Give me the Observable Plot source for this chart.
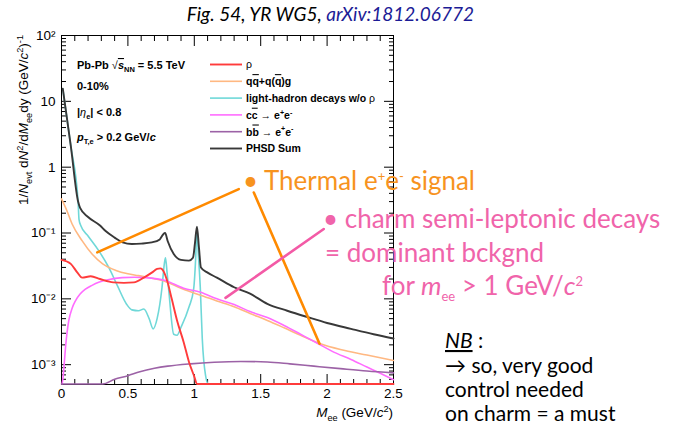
<!DOCTYPE html>
<html>
<head>
<meta charset="utf-8">
<script src="https://cdn.jsdelivr.net/npm/d3@7"></script>
<script src="https://cdn.jsdelivr.net/npm/@observablehq/plot@0.6"></script>
<style>
  body { margin: 0; background: #fff; }
  svg { display: block; }
</style>
</head>
<body>
<div id="chart"></div>
<script>
// Dielectron invariant-mass spectrum, Pb-Pb 5.5 TeV, 0-10% (PHSD). Points are [M_ee in GeV/c², yield].
// Components that fall off the bottom of the plot are kept at the floor (5.1e-4) so they run along the axis.
const rho = [
  [0.0, 0.039], [0.07, 0.034], [0.12, 0.025], [0.155, 0.021], [0.22, 0.022], [0.29, 0.020],
  [0.39, 0.0178], [0.47, 0.0175], [0.545, 0.0178], [0.62, 0.021], [0.68, 0.025], [0.72, 0.0285],
  [0.745, 0.029], [0.765, 0.027], [0.795, 0.019], [0.83, 0.010], [0.87, 0.0047], [0.92, 0.0022],
  [0.96, 0.0011], [1.0, 0.00066], [1.02, 0.00051], [1.06, 0.00051], [2.5, 0.00051]
];
const qqbar = [
  [0.0, 0.33], [0.04, 0.22], [0.08, 0.137], [0.156, 0.076], [0.23, 0.048], [0.31, 0.034],
  [0.41, 0.027], [0.5, 0.024], [0.58, 0.0225], [0.68, 0.0205], [0.76, 0.019], [0.9, 0.0145],
  [1.047, 0.0113], [1.17, 0.0093], [1.3, 0.0076], [1.42, 0.006], [1.55, 0.0047], [1.68, 0.0036],
  [1.8, 0.0028], [1.95, 0.00208], [2.1, 0.0017], [2.3, 0.0014], [2.5, 0.00116]
];
const lightHadrons = [
  [0.01, 15.5], [0.07, 2.1], [0.125, 0.3], [0.132, 0.16], [0.145, 0.13], [0.2, 0.09], [0.28, 0.054],
  [0.356, 0.030], [0.42, 0.016], [0.49, 0.0083], [0.53, 0.0068], [0.58, 0.0066], [0.62, 0.007],
  [0.66, 0.005], [0.69, 0.0035], [0.72, 0.005], [0.757, 0.015], [0.775, 0.035], [0.783, 0.042],
  [0.795, 0.025], [0.81, 0.012], [0.845, 0.0029], [0.87, 0.0028], [0.9, 0.0037], [0.96, 0.0075],
  [0.995, 0.014], [1.01, 0.04], [1.02, 0.12], [1.03, 0.05], [1.045, 0.015], [1.06, 0.0025],
  [1.085, 0.00068], [1.105, 0.00051], [1.15, 0.00051]
];
const ccbar = [
  [0.004, 0.00051], [0.01, 0.0006], [0.02, 0.001], [0.03, 0.0018], [0.055, 0.0047], [0.08, 0.0072],
  [0.105, 0.0093], [0.14, 0.0118], [0.18, 0.014], [0.23, 0.016], [0.28, 0.0178], [0.35, 0.0195],
  [0.457, 0.021], [0.55, 0.0213], [0.63, 0.021], [0.78, 0.019], [0.92, 0.0145], [1.047, 0.0126],
  [1.17, 0.0100], [1.3, 0.0082], [1.42, 0.0064], [1.55, 0.0052], [1.68, 0.0039], [1.8, 0.0029],
  [1.93, 0.0021], [2.05, 0.00155], [2.18, 0.0012], [2.3, 0.00092], [2.4, 0.00074], [2.5, 0.00059]
];
const bbbar = [
  [0.0, 0.00051], [0.31, 0.00051], [0.4, 0.0006], [0.5, 0.00068], [0.59, 0.00078],
  [0.7, 0.00088], [0.8, 0.00095], [0.97, 0.00103], [1.15, 0.00109], [1.35, 0.00112], [1.55, 0.0011],
  [1.72, 0.00103], [1.9, 0.00095], [2.1, 0.00087], [2.3, 0.0008], [2.5, 0.00075]
];
const phsdSum = [
  [0.01, 15.5], [0.07, 2.1], [0.125, 0.3], [0.14, 0.24], [0.2, 0.175], [0.29, 0.13], [0.33, 0.108],
  [0.4, 0.085], [0.46, 0.072], [0.53, 0.068], [0.6, 0.069], [0.68, 0.072], [0.74, 0.08],
  [0.765, 0.095], [0.78, 0.1], [0.8, 0.075], [0.845, 0.048], [0.9, 0.039], [0.96, 0.038],
  [0.99, 0.042], [1.005, 0.07], [1.02, 0.125], [1.035, 0.06], [1.05, 0.03], [1.1, 0.025],
  [1.17, 0.021], [1.3, 0.015], [1.42, 0.012], [1.55, 0.0084], [1.7, 0.0066], [1.85, 0.0053],
  [2.0, 0.0043], [2.18, 0.0035], [2.35, 0.0029], [2.5, 0.0025]
];

// Pointer segments of the two annotations, in data units.
const thermalPointerA = [[0.269, 0.0508], [1.335, 0.464]];
const thermalPointerB = [[1.448, 0.412], [1.943, 0.00208]];
const charmPointer = [[1.235, 0.01035], [1.975, 0.115]];

// Axis ticks and their labels.
const xMajor = [0, 0.5, 1, 1.5, 2, 2.5];
const xTickLabels = ["0", "0.5", "1", "1.5", "2", "2.5"];
const yMajor = [1e-3, 1e-2, 1e-1, 1, 10, 100];
const yTickLabels = ["10⁻³", "10⁻²", "10⁻¹", "1", "10", "10²"];

const xMinor = d3.range(0, 26).map(i => i / 10).filter(v => Math.abs(v * 2 - Math.round(v * 2)) > 1e-9);
const yMinor = [];
for (let e = -4; e <= 1; e++) for (let k = 2; k <= 9; k++) {
  const v = k * Math.pow(10, e);
  if (v >= 5e-4 && v <= 100) yMinor.push(v);
}

const style = {
  rho:   {stroke: "#ff3b3b", width: 1.9},
  qq:    {stroke: "#ffb882", width: 1.6},
  light: {stroke: "#6fd8d8", width: 1.6},
  cc:    {stroke: "#ff6cff", width: 1.6},
  bb:    {stroke: "#9c62a6", width: 1.6},
  sum:   {stroke: "#383838", width: 1.9}
};
const drawOrder = [
  ["light", lightHadrons], ["qq", qqbar], ["cc", ccbar], ["bb", bbbar], ["rho", rho], ["sum", phsdSum]
];

const W = 674, H = 428;
const frame = {left: 61, right: 393, top: 35, bottom: 384};
const xLab = new Map(xMajor.map((v, i) => [v, xTickLabels[i]]));
const yLab = new Map(yMajor.map((v, i) => [v, yTickLabels[i]]));
const blank = () => "";
const axisFont = 13.5;

const chart = Plot.plot({
  width: W,
  height: H,
  marginLeft: frame.left,
  marginRight: W - frame.right,
  marginTop: frame.top,
  marginBottom: H - frame.bottom,
  style: {fontFamily: "'Liberation Sans', Arial, sans-serif", background: "white", overflow: "visible"},
  x: {domain: [0, 2.5]},
  y: {type: "log", domain: [5e-4, 100], clamp: true},
  marks: [
    Plot.frame({stroke: "black", strokeWidth: 1}),
    // ticks point inwards on all four sides
    Plot.axisX({anchor: "bottom", ticks: xMajor, tickSize: -10, tickPadding: 14, tickFormat: d => xLab.get(d), fontSize: axisFont, label: null, color: "black"}),
    Plot.axisX({anchor: "bottom", ticks: xMinor, tickSize: -5, tickFormat: blank, label: null}),
    Plot.axisX({anchor: "top", ticks: xMajor, tickSize: -10, tickFormat: blank, label: null}),
    Plot.axisX({anchor: "top", ticks: xMinor, tickSize: -5, tickFormat: blank, label: null}),
    Plot.axisY({anchor: "left", ticks: yMajor, tickSize: -10, tickPadding: 16, tickFormat: d => yLab.get(d), fontSize: axisFont, label: null, color: "black"}),
    Plot.axisY({anchor: "left", ticks: yMinor, tickSize: -5, tickFormat: blank, label: null}),
    Plot.axisY({anchor: "right", ticks: yMajor, tickSize: -10, tickFormat: blank, label: null}),
    Plot.axisY({anchor: "right", ticks: yMinor, tickSize: -5, tickFormat: blank, label: null}),
    // model components, drawn over the frame like the original ROOT canvas
    ...drawOrder.map(([k, data]) => Plot.line(data, {
      x: d => d[0], y: d => d[1],
      stroke: style[k].stroke, strokeWidth: style[k].width, curve: "monotone-x"
    })),
    // annotation pointers
    Plot.line(thermalPointerA, {x: d => d[0], y: d => d[1], stroke: "#ff8a00", strokeWidth: 2.6}),
    Plot.line(thermalPointerB, {x: d => d[0], y: d => d[1], stroke: "#ff8a00", strokeWidth: 2.6}),
    Plot.line(charmPointer, {x: d => d[0], y: d => d[1], stroke: "#f35aa6", strokeWidth: 2.6})
  ]
});
document.getElementById("chart").appendChild(chart);

// ---- rich text helpers (subscripts, superscripts, italics, overlines) ----
const svg = d3.select(chart);
const notes = svg.append("g");

function richText(parent, x, y, parts, o = {}) {
  const size = o.size || 12;
  const supShift = o.supShift ?? 0.4, subShift = o.subShift ?? 0.3, small = o.small ?? 0.68;
  const t = parent.append("text")
    .attr("x", x).attr("y", y)
    .attr("font-size", size)
    .attr("font-family", o.family || "'Liberation Sans', Arial, sans-serif")
    .attr("font-weight", o.weight || "normal")
    .attr("font-style", o.style || "normal")
    .attr("fill", o.fill || "black")
    .attr("text-anchor", o.anchor || "start");
  if (o.transform) t.attr("transform", o.transform);
  let shift = 0;
  for (const p of parts) {
    const s = typeof p === "string" ? {t: p} : p;
    const ts = t.append("tspan").text(s.t);
    const target = s.sub ? subShift * size : s.sup ? -supShift * size : 0;
    if (target !== shift) { ts.attr("dy", target - shift); shift = target; }
    if (s.sub || s.sup) ts.attr("font-size", size * small);
    if (s.it) ts.attr("font-style", "italic");
    if (s.w) ts.attr("font-weight", s.w);
    if (s.over) ts.style("text-decoration", "overline");
    if (s.under) ts.style("text-decoration", "underline");
    if (s.fill) ts.attr("fill", s.fill);
  }
  return t;
}

// axis titles
richText(notes, 0, 0, [
  "1/", {t: "N", it: true}, {t: "evt", sub: true}, " d", {t: "N", it: true}, {t: "2", sup: true},
  "/d", {t: "M", it: true}, {t: "ee", sub: true}, "dy (GeV/", {t: "c", it: true}, {t: "2", sup: true}, ")",
  {t: "-1", sup: true}
], {size: 13.5, anchor: "end", transform: "translate(28,35) rotate(-90)"});

richText(notes, frame.right, 417, [
  {t: "M", it: true}, {t: "ee", sub: true}, " (GeV/", {t: "c", it: true}, {t: "2", sup: true}, ")"
], {size: 13.5, anchor: "end"});

// collision system block
const infoX = 77, bold = "bold";
richText(notes, infoX, 69, [
  "Pb-Pb ", {t: "√", w: "normal"}, {t: "s", it: true, over: true}, {t: "NN", sub: true}, " = 5.5 TeV"
], {size: 11, weight: bold});
richText(notes, infoX, 90, ["0-10%"], {size: 11, weight: bold});
richText(notes, infoX, 116, ["|", {t: "η", it: true, w: "normal"}, {t: "e", sub: true}, "| < 0.8"], {size: 11, weight: bold});
richText(notes, infoX, 141, [{t: "p", it: true}, {t: "T,e", sub: true}, " > 0.2 GeV/", {t: "c", it: true}], {size: 11, weight: bold});

// legend
const legendRows = [
  ["rho", [{t: "ρ", w: "normal"}]],
  ["qq", ["q", {t: "q", over: true}, "+q(", {t: "q", over: true}, ")g"]],
  ["light", ["light-hadron decays w/o ", {t: "ρ", w: "normal"}]],
  ["cc", ["c", {t: "c", over: true}, {t: " → ", w: "normal"}, "e", {t: "+", sup: true}, "e", {t: "-", sup: true}]],
  ["bb", ["b", {t: "b", over: true}, {t: " → ", w: "normal"}, "e", {t: "+", sup: true}, "e", {t: "-", sup: true}]],
  ["sum", ["PHSD Sum"]]
];
legendRows.forEach(([k, parts], i) => {
  const y = 64.5 + i * 16.8;
  notes.append("line").attr("x1", 210).attr("x2", 242).attr("y1", y).attr("y2", y)
    .attr("stroke", style[k].stroke).attr("stroke-width", style[k].width);
  richText(notes, 246, y + 3.8, parts, {size: 10.5, weight: bold});
});

// title and commentary
const noteFont = "Lato, 'Open Sans', sans-serif";
richText(notes, 474, 21, ["Fig. 54, YR WG5, ", {t: "arXiv:1812.06772", fill: "#1c1c96"}],
  {size: 19, family: noteFont, style: "italic", anchor: "end"});

const bigSup = {supShift: 0.33, subShift: 0.22, small: 0.5};
richText(notes, 243, 190, ["• Thermal e", {t: "+", sup: true}, "e", {t: "-", sup: true}, " signal"],
  {size: 26, family: noteFont, fill: "#f7931e", ...bigSup});

const pink = "#f064aa";
richText(notes, 323, 228, ["• charm semi-leptonic decays"], {size: 26, family: noteFont, fill: pink});
richText(notes, 325, 262, ["= dominant bckgnd"], {size: 26, family: noteFont, fill: pink});
richText(notes, 382, 295, ["for ", {t: "m", it: true}, {t: "ee", sub: true}, " > 1 GeV/", {t: "c", it: true}, {t: "2", sup: true}],
  {size: 26, family: noteFont, fill: pink, ...bigSup});

richText(notes, 445, 348, [{t: "NB", it: true, under: true}, " :"], {size: 21, family: noteFont});
richText(notes, 445, 373, ["→ so, very good"], {size: 21, family: noteFont});
richText(notes, 445, 397, ["control needed"], {size: 21, family: noteFont});
richText(notes, 445, 421, ["on charm = a must"], {size: 21, family: noteFont});
</script>
</body>
</html>
